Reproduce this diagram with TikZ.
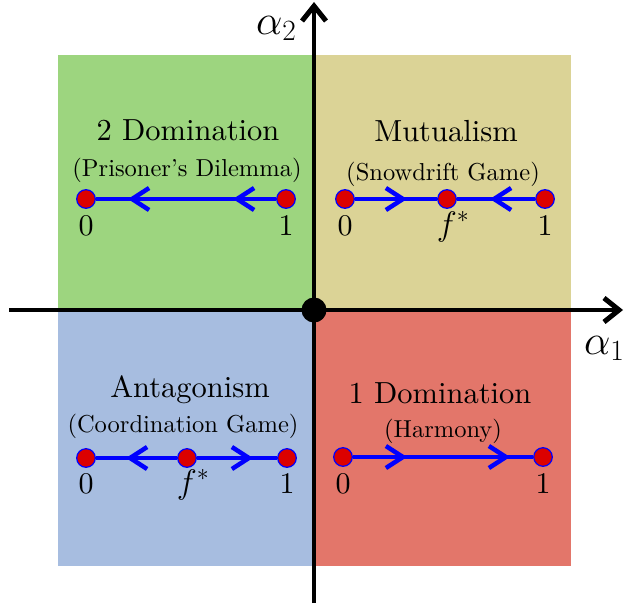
\RequirePackage{fix-cm}
\documentclass[tikz,border=0pt]{standalone}
\usepackage{fontspec}
\setmainfont{lmroman10-regular.otf}
\usetikzlibrary{decorations.markings}
\definecolor{qgreen}{RGB}{157,213,127}
\definecolor{qtan}{RGB}{219,211,150}
\definecolor{qblue}{RGB}{167,189,224}
\definecolor{qred}{RGB}{227,118,106}
\definecolor{dotred}{RGB}{220,0,0}
\definecolor{flowblue}{RGB}{0,0,255}
\tikzset{
  dot/.style={circle, minimum size=18.6pt, inner sep=0pt, fill=dotred, draw=flowblue, line width=1.2pt},
  origin/.style={circle, minimum size=25pt, inner sep=0pt, fill=black},
  flow/.style={draw=flowblue, line width=3.5pt},
  chev/.style={postaction={decorate, decoration={markings,
      mark=at position #1 with {\draw[flowblue, line width=4.5pt, miter limit=10] (-17pt,11pt) -- (0pt,0pt) -- (-17pt,-11pt);}}}},
  axis/.style={draw=black, line width=4.5pt, postaction={decorate, decoration={markings,
      mark=at position 1 with {\draw[black, line width=5pt, miter limit=10] (-15pt,12pt) -- (0pt,0pt) -- (-15pt,-12pt);}}}},
  title/.style={font=\fontsize{30.5}{36}\selectfont, anchor=base, inner sep=0pt},
  sub/.style={font=\fontsize{24.5}{29}\selectfont, anchor=base, inner sep=0pt},
  num/.style={font=\fontsize{30}{34}\selectfont, anchor=base, inner sep=0pt},
  fnum/.style={font=\fontsize{34}{38}\selectfont, anchor=base, inner sep=0pt},
  axlab/.style={font=\fontsize{42}{48}\selectfont, anchor=base west, inner sep=0pt},
}
\begin{document}
\begin{tikzpicture}[x=1pt,y=-1pt]
\useasboundingbox (0,0) rectangle (628,605);
% quadrants
\fill[qgreen] (58,55) rectangle (314,310);
\fill[qtan] (314,55) rectangle (571,310);
\fill[qblue] (58,310) rectangle (314,566);
\fill[qred] (314,310) rectangle (571,566);
% axes
\coordinate (xs) at (9,310);
\coordinate (xe) at (619,310);
\coordinate (ys) at (314,603);
\coordinate (ye) at (314,6);
\draw[axis] (xs) -- (xe);
\draw[axis] (ys) -- (ye);
\node[origin] (o) at (314,310) {};
\node[axlab] (a1) at (584,354) {$\alpha_1$};
\node[axlab] (a2) at (256,34) {$\alpha_2$};
% 2 Domination
\node[title] (t1) at (188,140) {2 Domination};
\node[sub] (s1) at (187,176) {(Prisoner’s Dilemma)};
\node[dot] (d0) at (86,199) {};
\node[dot] (d1) at (286,199) {};
\draw[flow, chev=39pt, chev=144pt] (d1) -- (d0);
\node[num] (d0l) at (86,235) {0};
\node[num] (d1l) at (286,235) {1};
% Mutualism
\node[title] (t2) at (446,141) {Mutualism};
\node[sub] (s2) at (443,180) {(Snowdrift Game)};
\node[dot] (m0) at (345,199) {};
\node[dot] (mf) at (447,199) {};
\node[dot] (m1) at (545,199) {};
\draw[flow, chev=48pt] (m0) -- (mf);
\draw[flow, chev=41pt] (m1) -- (mf);
\node[num] (m0l) at (345,235) {0};
\node[fnum] (mfl) at (453,235) {$f^*$};
\node[num] (m1l) at (545,235) {1};
% Antagonism
\node[title] (t3) at (190,397) {Antagonism};
\node[sub] (s3) at (183,432) {(Coordination Game)};
\node[dot] (a0) at (86,458) {};
\node[dot] (af) at (187,458) {};
\node[dot] (a1d) at (287,458) {};
\draw[flow, chev=47pt] (af) -- (a0);
\draw[flow, chev=52pt] (af) -- (a1d);
\node[num] (a0l) at (86,493) {0};
\node[fnum] (afl) at (193,493) {$f^*$};
\node[num] (a1l) at (287,493) {1};
% 1 Domination
\node[title] (t4) at (440,403) {1 Domination};
\node[sub] (s4) at (443,437) {(Harmony)};
\node[dot] (h0) at (343,457) {};
\node[dot] (h1) at (543,457) {};
\draw[flow, chev=50pt, chev=153pt] (h0) -- (h1);
\node[num] (h0l) at (343,493) {0};
\node[num] (h1l) at (543,493) {1};
\end{tikzpicture}
\end{document}
